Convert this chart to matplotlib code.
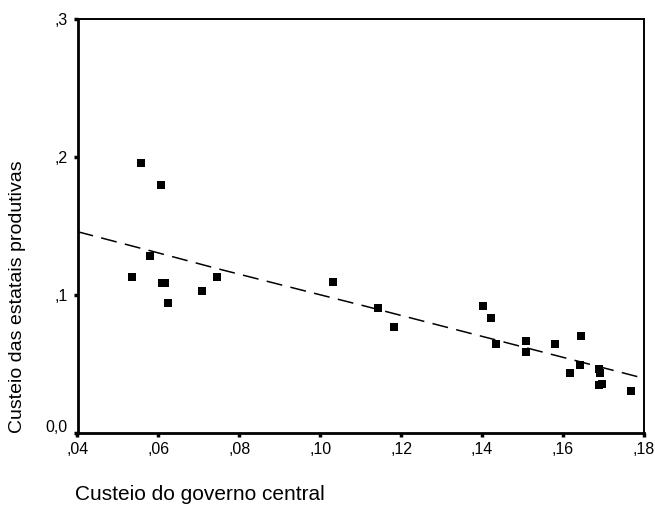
import matplotlib
matplotlib.use("Agg")
import matplotlib.pyplot as plt
from matplotlib.transforms import ScaledTranslation

plt.rcParams['font.family'] = ['Liberation Sans', 'DejaVu Sans']

# scatter data
gov = [0.0556, 0.0606, 0.0578, 0.0534, 0.0608, 0.0616, 0.0624, 0.0707, 0.0744,
       0.1032, 0.1143, 0.1183, 0.1403, 0.1421, 0.1435, 0.1508, 0.1508, 0.1580,
       0.1645, 0.1616, 0.1641, 0.1688, 0.1692, 0.1688, 0.1696, 0.1767]
est = [0.1956, 0.1796, 0.1280, 0.1130, 0.1087, 0.1087, 0.0940, 0.1029, 0.1130,
       0.1090, 0.0901, 0.0763, 0.0920, 0.0833, 0.0642, 0.0664, 0.0584, 0.0642,
       0.0703, 0.0434, 0.0492, 0.0461, 0.0434, 0.0347, 0.0354, 0.0303]

# fitted (loess-like) line
fit_x = [0.040, 0.0578, 0.0744, 0.1012, 0.110, 0.1436, 0.180]
fit_y = [0.1457, 0.1320, 0.1190, 0.0990, 0.0925, 0.0670, 0.0393]

xticks = [0.04, 0.06, 0.08, 0.10, 0.12, 0.14, 0.16, 0.18]
xticklabels = [',04', ',06', ',08', ',10', ',12', ',14', ',16', ',18']
yticks = [0.0, 0.1, 0.2, 0.3]
yticklabels = ['0,0', ',1', ',2', ',3']

W, H = 655, 505
fig = plt.figure(figsize=(W / 100, H / 100), dpi=100)
ax = fig.add_axes([77.5 / W, 1 - 432.5 / H, (644 - 77.5) / W, (432.5 - 19) / H])

ax.plot(fit_x, fit_y, color='black', lw=1.1, dashes=(10.5, 5.5))
ax.scatter(gov, est, marker='s', s=30, color='black', linewidths=0, zorder=3)

ax.set_xlim(0.04, 0.18)
ax.set_ylim(0.0, 0.3)
ax.set_xticks(xticks)
ax.set_xticklabels(xticklabels)
ax.set_yticks(yticks)
ax.set_yticklabels(yticklabels)
ax.tick_params(direction='out', length=3, width=2.5, labelsize=11.5, pad=4)

# raise the "0,0" label a little as in the reference
lab0 = ax.get_yticklabels()[0]
lab0.set_transform(lab0.get_transform() + ScaledTranslation(0, 6 / 100, fig.dpi_scale_trans))

for s in ['left', 'bottom']:
    ax.spines[s].set_linewidth(2)
for s in ['top', 'right']:
    ax.spines[s].set_linewidth(1.4)

fig.text(18 / W, 1 - 297 / H, 'Custeio das estatais produtivas', rotation=90,
         ha='center', va='center', fontsize=14)
fig.text(75 / W, 1 - 494 / H, 'Custeio do governo central', ha='left',
         va='center', fontsize=15)

fig.savefig('out.png', dpi=100)
